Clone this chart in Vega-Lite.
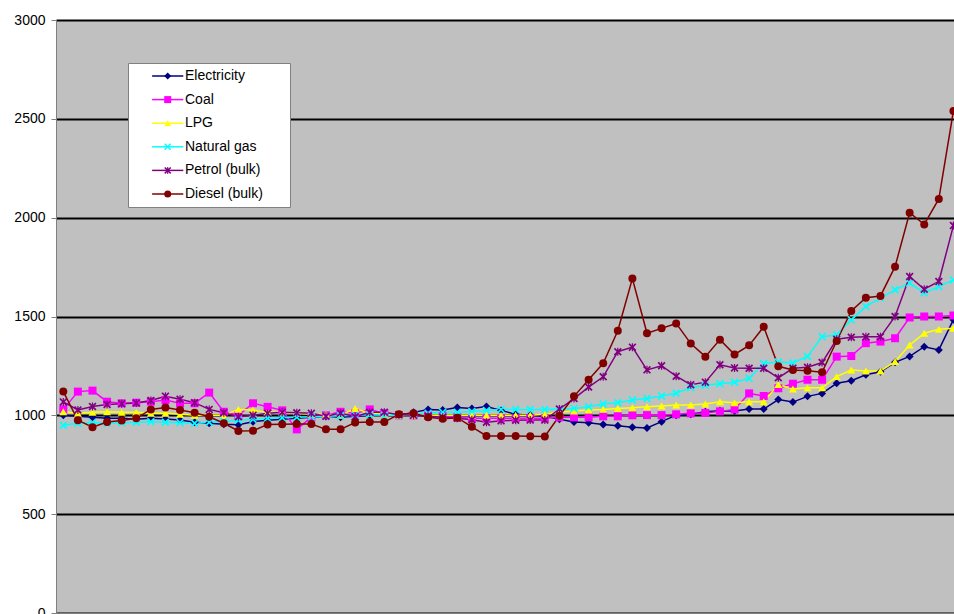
{
  "$schema": "https://vega.github.io/schema/vega-lite/v6.json",
  "width": 898,
  "height": 593,
  "autosize": {"type": "none"},
  "padding": {"left": 56, "top": 20, "right": 0, "bottom": 1},
  "background": "white",
  "config": {
    "view": {"fill": "#C0C0C0", "stroke": null},
    "font": "Liberation Sans"
  },
  "datasets": {
    "prices": [
      {"series":"Electricity","period":0,"value":1000},{"series":"Electricity","period":1,"value":995},{"series":"Electricity","period":2,"value":990},{"series":"Electricity","period":3,"value":985},{"series":"Electricity","period":4,"value":985},{"series":"Electricity","period":5,"value":980},{"series":"Electricity","period":6,"value":985},{"series":"Electricity","period":7,"value":982},{"series":"Electricity","period":8,"value":976},{"series":"Electricity","period":9,"value":965},
      {"series":"Electricity","period":10,"value":960},{"series":"Electricity","period":11,"value":955},{"series":"Electricity","period":12,"value":952},{"series":"Electricity","period":13,"value":968},{"series":"Electricity","period":14,"value":975},{"series":"Electricity","period":15,"value":980},{"series":"Electricity","period":16,"value":985},{"series":"Electricity","period":17,"value":990},{"series":"Electricity","period":18,"value":995},{"series":"Electricity","period":19,"value":990},
      {"series":"Electricity","period":20,"value":995},{"series":"Electricity","period":21,"value":1000},{"series":"Electricity","period":22,"value":1000},{"series":"Electricity","period":23,"value":1000},{"series":"Electricity","period":24,"value":1015},{"series":"Electricity","period":25,"value":1030},{"series":"Electricity","period":26,"value":1027},{"series":"Electricity","period":27,"value":1040},{"series":"Electricity","period":28,"value":1035},{"series":"Electricity","period":29,"value":1045},
      {"series":"Electricity","period":30,"value":1025},{"series":"Electricity","period":31,"value":1005},{"series":"Electricity","period":32,"value":1000},{"series":"Electricity","period":33,"value":995},{"series":"Electricity","period":34,"value":980},{"series":"Electricity","period":35,"value":966},{"series":"Electricity","period":36,"value":963},{"series":"Electricity","period":37,"value":954},{"series":"Electricity","period":38,"value":947},{"series":"Electricity","period":39,"value":940},
      {"series":"Electricity","period":40,"value":936},{"series":"Electricity","period":41,"value":968},{"series":"Electricity","period":42,"value":1001},{"series":"Electricity","period":43,"value":1006},{"series":"Electricity","period":44,"value":1018},{"series":"Electricity","period":45,"value":1023},{"series":"Electricity","period":46,"value":1022},{"series":"Electricity","period":47,"value":1032},{"series":"Electricity","period":48,"value":1032},{"series":"Electricity","period":49,"value":1080},
      {"series":"Electricity","period":50,"value":1067},{"series":"Electricity","period":51,"value":1096},{"series":"Electricity","period":52,"value":1111},{"series":"Electricity","period":53,"value":1162},{"series":"Electricity","period":54,"value":1175},{"series":"Electricity","period":55,"value":1205},{"series":"Electricity","period":56,"value":1220},{"series":"Electricity","period":57,"value":1268},{"series":"Electricity","period":58,"value":1298},{"series":"Electricity","period":59,"value":1347},
      {"series":"Electricity","period":60,"value":1331},{"series":"Electricity","period":61,"value":1484},

      {"series":"Coal","period":0,"value":1030},{"series":"Coal","period":1,"value":1120},{"series":"Coal","period":2,"value":1125},{"series":"Coal","period":3,"value":1069},{"series":"Coal","period":4,"value":1061},{"series":"Coal","period":5,"value":1064},{"series":"Coal","period":6,"value":1069},{"series":"Coal","period":7,"value":1077},{"series":"Coal","period":8,"value":1061},{"series":"Coal","period":9,"value":1061},
      {"series":"Coal","period":10,"value":1115},{"series":"Coal","period":11,"value":1018},{"series":"Coal","period":12,"value":1000},{"series":"Coal","period":13,"value":1061},{"series":"Coal","period":14,"value":1043},{"series":"Coal","period":15,"value":1025},{"series":"Coal","period":16,"value":929},{"series":"Coal","period":17,"value":990},{"series":"Coal","period":18,"value":1000},{"series":"Coal","period":19,"value":1018},
      {"series":"Coal","period":20,"value":1010},{"series":"Coal","period":21,"value":1030},{"series":"Coal","period":22,"value":1010},{"series":"Coal","period":23,"value":1000},{"series":"Coal","period":24,"value":1000},{"series":"Coal","period":25,"value":1000},{"series":"Coal","period":26,"value":995},{"series":"Coal","period":27,"value":990},{"series":"Coal","period":28,"value":985},{"series":"Coal","period":29,"value":985},
      {"series":"Coal","period":30,"value":985},{"series":"Coal","period":31,"value":985},{"series":"Coal","period":32,"value":985},{"series":"Coal","period":33,"value":985},{"series":"Coal","period":34,"value":990},{"series":"Coal","period":35,"value":990},{"series":"Coal","period":36,"value":990},{"series":"Coal","period":37,"value":995},{"series":"Coal","period":38,"value":995},{"series":"Coal","period":39,"value":1000},
      {"series":"Coal","period":40,"value":1001},{"series":"Coal","period":41,"value":1001},{"series":"Coal","period":42,"value":1005},{"series":"Coal","period":43,"value":1010},{"series":"Coal","period":44,"value":1012},{"series":"Coal","period":45,"value":1020},{"series":"Coal","period":46,"value":1030},{"series":"Coal","period":47,"value":1111},{"series":"Coal","period":48,"value":1098},{"series":"Coal","period":49,"value":1137},
      {"series":"Coal","period":50,"value":1160},{"series":"Coal","period":51,"value":1180},{"series":"Coal","period":52,"value":1180},{"series":"Coal","period":53,"value":1297},{"series":"Coal","period":54,"value":1300},{"series":"Coal","period":55,"value":1365},{"series":"Coal","period":56,"value":1373},{"series":"Coal","period":57,"value":1390},{"series":"Coal","period":58,"value":1495},{"series":"Coal","period":59,"value":1500},
      {"series":"Coal","period":60,"value":1500},{"series":"Coal","period":61,"value":1505},

      {"series":"LPG","period":0,"value":1018},{"series":"LPG","period":1,"value":1010},{"series":"LPG","period":2,"value":1015},{"series":"LPG","period":3,"value":1018},{"series":"LPG","period":4,"value":1015},{"series":"LPG","period":5,"value":1015},{"series":"LPG","period":6,"value":1010},{"series":"LPG","period":7,"value":1010},{"series":"LPG","period":8,"value":1005},{"series":"LPG","period":9,"value":1000},
      {"series":"LPG","period":10,"value":1000},{"series":"LPG","period":11,"value":1000},{"series":"LPG","period":12,"value":1030},{"series":"LPG","period":13,"value":1027},{"series":"LPG","period":14,"value":1015},{"series":"LPG","period":15,"value":1015},{"series":"LPG","period":16,"value":1010},{"series":"LPG","period":17,"value":1005},{"series":"LPG","period":18,"value":1005},{"series":"LPG","period":19,"value":1000},
      {"series":"LPG","period":20,"value":1035},{"series":"LPG","period":21,"value":1010},{"series":"LPG","period":22,"value":1005},{"series":"LPG","period":23,"value":1000},{"series":"LPG","period":24,"value":1000},{"series":"LPG","period":25,"value":1000},{"series":"LPG","period":26,"value":1000},{"series":"LPG","period":27,"value":1000},{"series":"LPG","period":28,"value":1000},{"series":"LPG","period":29,"value":1000},
      {"series":"LPG","period":30,"value":1000},{"series":"LPG","period":31,"value":1000},{"series":"LPG","period":32,"value":1001},{"series":"LPG","period":33,"value":1005},{"series":"LPG","period":34,"value":1015},{"series":"LPG","period":35,"value":1022},{"series":"LPG","period":36,"value":1027},{"series":"LPG","period":37,"value":1030},{"series":"LPG","period":38,"value":1035},{"series":"LPG","period":39,"value":1038},
      {"series":"LPG","period":40,"value":1043},{"series":"LPG","period":41,"value":1047},{"series":"LPG","period":42,"value":1052},{"series":"LPG","period":43,"value":1052},{"series":"LPG","period":44,"value":1057},{"series":"LPG","period":45,"value":1069},{"series":"LPG","period":46,"value":1064},{"series":"LPG","period":47,"value":1069},{"series":"LPG","period":48,"value":1069},{"series":"LPG","period":49,"value":1156},
      {"series":"LPG","period":50,"value":1133},{"series":"LPG","period":51,"value":1139},{"series":"LPG","period":52,"value":1139},{"series":"LPG","period":53,"value":1196},{"series":"LPG","period":54,"value":1229},{"series":"LPG","period":55,"value":1224},{"series":"LPG","period":56,"value":1224},{"series":"LPG","period":57,"value":1272},{"series":"LPG","period":58,"value":1356},{"series":"LPG","period":59,"value":1415},
      {"series":"LPG","period":60,"value":1435},{"series":"LPG","period":61,"value":1440},

      {"series":"Natural gas","period":0,"value":950},{"series":"Natural gas","period":1,"value":960},{"series":"Natural gas","period":2,"value":962},{"series":"Natural gas","period":3,"value":960},{"series":"Natural gas","period":4,"value":963},{"series":"Natural gas","period":5,"value":965},{"series":"Natural gas","period":6,"value":968},{"series":"Natural gas","period":7,"value":965},{"series":"Natural gas","period":8,"value":963},{"series":"Natural gas","period":9,"value":960},
      {"series":"Natural gas","period":10,"value":965},{"series":"Natural gas","period":11,"value":970},{"series":"Natural gas","period":12,"value":975},{"series":"Natural gas","period":13,"value":980},{"series":"Natural gas","period":14,"value":985},{"series":"Natural gas","period":15,"value":988},{"series":"Natural gas","period":16,"value":990},{"series":"Natural gas","period":17,"value":993},{"series":"Natural gas","period":18,"value":995},{"series":"Natural gas","period":19,"value":998},
      {"series":"Natural gas","period":20,"value":1000},{"series":"Natural gas","period":21,"value":1003},{"series":"Natural gas","period":22,"value":1000},{"series":"Natural gas","period":23,"value":1000},{"series":"Natural gas","period":24,"value":1005},{"series":"Natural gas","period":25,"value":1010},{"series":"Natural gas","period":26,"value":1015},{"series":"Natural gas","period":27,"value":1015},{"series":"Natural gas","period":28,"value":1020},{"series":"Natural gas","period":29,"value":1025},
      {"series":"Natural gas","period":30,"value":1030},{"series":"Natural gas","period":31,"value":1030},{"series":"Natural gas","period":32,"value":1030},{"series":"Natural gas","period":33,"value":1030},{"series":"Natural gas","period":34,"value":1032},{"series":"Natural gas","period":35,"value":1035},{"series":"Natural gas","period":36,"value":1043},{"series":"Natural gas","period":37,"value":1057},{"series":"Natural gas","period":38,"value":1064},{"series":"Natural gas","period":39,"value":1077},
      {"series":"Natural gas","period":40,"value":1085},{"series":"Natural gas","period":41,"value":1098},{"series":"Natural gas","period":42,"value":1112},{"series":"Natural gas","period":43,"value":1140},{"series":"Natural gas","period":44,"value":1152},{"series":"Natural gas","period":45,"value":1160},{"series":"Natural gas","period":46,"value":1167},{"series":"Natural gas","period":47,"value":1187},{"series":"Natural gas","period":48,"value":1262},{"series":"Natural gas","period":49,"value":1270},
      {"series":"Natural gas","period":50,"value":1265},{"series":"Natural gas","period":51,"value":1298},{"series":"Natural gas","period":52,"value":1398},{"series":"Natural gas","period":53,"value":1407},{"series":"Natural gas","period":54,"value":1483},{"series":"Natural gas","period":55,"value":1551},{"series":"Natural gas","period":56,"value":1593},{"series":"Natural gas","period":57,"value":1635},{"series":"Natural gas","period":58,"value":1669},{"series":"Natural gas","period":59,"value":1620},
      {"series":"Natural gas","period":60,"value":1651},{"series":"Natural gas","period":61,"value":1685},

      {"series":"Petrol (bulk)","period":0,"value":1068},{"series":"Petrol (bulk)","period":1,"value":1027},{"series":"Petrol (bulk)","period":2,"value":1045},{"series":"Petrol (bulk)","period":3,"value":1055},{"series":"Petrol (bulk)","period":4,"value":1058},{"series":"Petrol (bulk)","period":5,"value":1062},{"series":"Petrol (bulk)","period":6,"value":1075},{"series":"Petrol (bulk)","period":7,"value":1097},{"series":"Petrol (bulk)","period":8,"value":1081},{"series":"Petrol (bulk)","period":9,"value":1064},
      {"series":"Petrol (bulk)","period":10,"value":1030},{"series":"Petrol (bulk)","period":11,"value":1013},{"series":"Petrol (bulk)","period":12,"value":993},{"series":"Petrol (bulk)","period":13,"value":1000},{"series":"Petrol (bulk)","period":14,"value":1010},{"series":"Petrol (bulk)","period":15,"value":1015},{"series":"Petrol (bulk)","period":16,"value":1013},{"series":"Petrol (bulk)","period":17,"value":1010},{"series":"Petrol (bulk)","period":18,"value":995},{"series":"Petrol (bulk)","period":19,"value":1012},
      {"series":"Petrol (bulk)","period":20,"value":993},{"series":"Petrol (bulk)","period":21,"value":1016},{"series":"Petrol (bulk)","period":22,"value":1016},{"series":"Petrol (bulk)","period":23,"value":1003},{"series":"Petrol (bulk)","period":24,"value":1000},{"series":"Petrol (bulk)","period":25,"value":995},{"series":"Petrol (bulk)","period":26,"value":990},{"series":"Petrol (bulk)","period":27,"value":985},{"series":"Petrol (bulk)","period":28,"value":978},{"series":"Petrol (bulk)","period":29,"value":965},
      {"series":"Petrol (bulk)","period":30,"value":972},{"series":"Petrol (bulk)","period":31,"value":975},{"series":"Petrol (bulk)","period":32,"value":976},{"series":"Petrol (bulk)","period":33,"value":976},{"series":"Petrol (bulk)","period":34,"value":1032},{"series":"Petrol (bulk)","period":35,"value":1085},{"series":"Petrol (bulk)","period":36,"value":1143},{"series":"Petrol (bulk)","period":37,"value":1195},{"series":"Petrol (bulk)","period":38,"value":1322},{"series":"Petrol (bulk)","period":39,"value":1345},
      {"series":"Petrol (bulk)","period":40,"value":1230},{"series":"Petrol (bulk)","period":41,"value":1251},{"series":"Petrol (bulk)","period":42,"value":1198},{"series":"Petrol (bulk)","period":43,"value":1155},{"series":"Petrol (bulk)","period":44,"value":1168},{"series":"Petrol (bulk)","period":45,"value":1256},{"series":"Petrol (bulk)","period":46,"value":1240},{"series":"Petrol (bulk)","period":47,"value":1238},{"series":"Petrol (bulk)","period":48,"value":1238},{"series":"Petrol (bulk)","period":49,"value":1190},
      {"series":"Petrol (bulk)","period":50,"value":1238},{"series":"Petrol (bulk)","period":51,"value":1243},{"series":"Petrol (bulk)","period":52,"value":1267},{"series":"Petrol (bulk)","period":53,"value":1385},{"series":"Petrol (bulk)","period":54,"value":1395},{"series":"Petrol (bulk)","period":55,"value":1397},{"series":"Petrol (bulk)","period":56,"value":1397},{"series":"Petrol (bulk)","period":57,"value":1500},{"series":"Petrol (bulk)","period":58,"value":1702},{"series":"Petrol (bulk)","period":59,"value":1638},
      {"series":"Petrol (bulk)","period":60,"value":1677},{"series":"Petrol (bulk)","period":61,"value":1960},

      {"series":"Diesel (bulk)","period":0,"value":1120},{"series":"Diesel (bulk)","period":1,"value":975},{"series":"Diesel (bulk)","period":2,"value":940},{"series":"Diesel (bulk)","period":3,"value":966},{"series":"Diesel (bulk)","period":4,"value":974},{"series":"Diesel (bulk)","period":5,"value":985},{"series":"Diesel (bulk)","period":6,"value":1030},{"series":"Diesel (bulk)","period":7,"value":1040},{"series":"Diesel (bulk)","period":8,"value":1027},{"series":"Diesel (bulk)","period":9,"value":1013},
      {"series":"Diesel (bulk)","period":10,"value":993},{"series":"Diesel (bulk)","period":11,"value":960},{"series":"Diesel (bulk)","period":12,"value":921},{"series":"Diesel (bulk)","period":13,"value":922},{"series":"Diesel (bulk)","period":14,"value":954},{"series":"Diesel (bulk)","period":15,"value":955},{"series":"Diesel (bulk)","period":16,"value":956},{"series":"Diesel (bulk)","period":17,"value":956},{"series":"Diesel (bulk)","period":18,"value":929},{"series":"Diesel (bulk)","period":19,"value":929},
      {"series":"Diesel (bulk)","period":20,"value":964},{"series":"Diesel (bulk)","period":21,"value":966},{"series":"Diesel (bulk)","period":22,"value":966},{"series":"Diesel (bulk)","period":23,"value":1005},{"series":"Diesel (bulk)","period":24,"value":1010},{"series":"Diesel (bulk)","period":25,"value":990},{"series":"Diesel (bulk)","period":26,"value":983},{"series":"Diesel (bulk)","period":27,"value":988},{"series":"Diesel (bulk)","period":28,"value":942},{"series":"Diesel (bulk)","period":29,"value":896},
      {"series":"Diesel (bulk)","period":30,"value":895},{"series":"Diesel (bulk)","period":31,"value":895},{"series":"Diesel (bulk)","period":32,"value":894},{"series":"Diesel (bulk)","period":33,"value":893},{"series":"Diesel (bulk)","period":34,"value":998},{"series":"Diesel (bulk)","period":35,"value":1096},{"series":"Diesel (bulk)","period":36,"value":1180},{"series":"Diesel (bulk)","period":37,"value":1263},{"series":"Diesel (bulk)","period":38,"value":1428},{"series":"Diesel (bulk)","period":39,"value":1692},
      {"series":"Diesel (bulk)","period":40,"value":1415},{"series":"Diesel (bulk)","period":41,"value":1440},{"series":"Diesel (bulk)","period":42,"value":1465},{"series":"Diesel (bulk)","period":43,"value":1363},{"series":"Diesel (bulk)","period":44,"value":1297},{"series":"Diesel (bulk)","period":45,"value":1383},{"series":"Diesel (bulk)","period":46,"value":1308},{"series":"Diesel (bulk)","period":47,"value":1354},{"series":"Diesel (bulk)","period":48,"value":1448},{"series":"Diesel (bulk)","period":49,"value":1248},
      {"series":"Diesel (bulk)","period":50,"value":1229},{"series":"Diesel (bulk)","period":51,"value":1226},{"series":"Diesel (bulk)","period":52,"value":1218},{"series":"Diesel (bulk)","period":53,"value":1376},{"series":"Diesel (bulk)","period":54,"value":1528},{"series":"Diesel (bulk)","period":55,"value":1595},{"series":"Diesel (bulk)","period":56,"value":1604},{"series":"Diesel (bulk)","period":57,"value":1752},{"series":"Diesel (bulk)","period":58,"value":2025},{"series":"Diesel (bulk)","period":59,"value":1966},
      {"series":"Diesel (bulk)","period":60,"value":2095},{"series":"Diesel (bulk)","period":61,"value":2540}
    ]
  },
  "data": {"name": "prices"},
  "encoding": {
    "x": {
      "field": "period", "type": "quantitative",
      "scale": {"domain": [-0.5, 61.04], "nice": false, "zero": false},
      "axis": {
        "title": null, "labels": false, "grid": false,
        "values": [-0.5,0.5,1.5,2.5,3.5,4.5,5.5,6.5,7.5,8.5,9.5,10.5,11.5,12.5,13.5,14.5,15.5,16.5,17.5,18.5,19.5,20.5,21.5,22.5,23.5,24.5,25.5,26.5,27.5,28.5,29.5,30.5,31.5,32.5,33.5,34.5,35.5,36.5,37.5,38.5,39.5,40.5,41.5,42.5,43.5,44.5,45.5,46.5,47.5,48.5,49.5,50.5,51.5,52.5,53.5,54.5,55.5,56.5,57.5,58.5,59.5,60.5],
        "domainColor": "#808080", "tickColor": "#808080", "tickSize": 5
      }
    },
    "y": {
      "field": "value", "type": "quantitative",
      "scale": {"domain": [0, 3000], "nice": false},
      "axis": {
        "title": null, "format": "d",
        "values": [0, 500, 1000, 1500, 2000, 2500, 3000],
        "grid": true, "gridColor": "#000000", "gridWidth": 2,
        "domainColor": "#808080", "tickColor": "#808080", "tickSize": 5,
        "labelPadding": 6, "labelFontSize": 14, "labelColor": "#000000", "labelFont": "Liberation Sans"
      }
    }
  },
  "layer": [
    {
      "mark": {"type": "line", "strokeWidth": 1.5, "clip": true},
      "encoding": {
        "stroke": {
          "field": "series", "type": "nominal",
          "sort": ["Electricity","Coal","LPG","Natural gas","Petrol (bulk)","Diesel (bulk)"],
          "scale": {"range": ["#000080","#FF00FF","#FFFF00","#00FFFF","#800080","#800000"]},
          "legend": {
            "orient": "none", "legendX": 72, "legendY": 43, "title": null,
            "fillColor": null, "strokeColor": null, "padding": 6,
            "symbolType": "M-6,0H6", "symbolSize": 27, "symbolStrokeWidth": 1.5, "symbolOffset": 26.7,
            "labelOffset": 10.3, "labelFontSize": 14, "labelFont": "Liberation Sans", "labelOpacity": 0,
            "rowPadding": 9.6, "zindex": 2
          }
        }
      }
    },
    {
      "mark": {"type": "point", "filled": true, "opacity": 1, "size": 64, "clip": true},
      "encoding": {
        "fill": {
          "field": "series", "type": "nominal",
          "scale": {"domain": ["Electricity","Coal","LPG","Natural gas","Petrol (bulk)","Diesel (bulk)"], "range": ["#000080","#FF00FF","#FFFF00","#00FFFF","#800080","#800000"]},
          "legend": {
            "orient": "none", "legendX": 72, "legendY": 43,
            "title": "\u2003", "titleOrient": "right", "titlePadding": 21, "titleFontSize": 14,
            "fillColor": "#FFFFFF", "strokeColor": "#808080", "padding": 6,
            "symbolSize": 49, "symbolOffset": 26.7, "symbolStrokeWidth": 0,
            "labelOffset": 10.3, "labelFontSize": 14, "labelFont": "Liberation Sans", "labelColor": "#000000",
            "rowPadding": 9.6, "zindex": 1
          }
        },
        "shape": {
          "field": "series", "type": "nominal",
          "scale": {"domain": ["Electricity","Coal","LPG","Natural gas","Petrol (bulk)","Diesel (bulk)"], "range": ["diamond","square","triangle-up","M-1,-0.7L-0.7,-1L0,-0.3L0.7,-1L1,-0.7L0.3,0L1,0.7L0.7,1L0,0.3L-0.7,1L-1,0.7L-0.3,0Z","M-1,-0.7L-0.7,-1L0,-0.3L0.7,-1L1,-0.7L0.3,0L1,0.7L0.7,1L0,0.3L-0.7,1L-1,0.7L-0.3,0ZM-0.15,-1L0.15,-1L0.15,1L-0.15,1Z","circle"]},
          "legend": {
            "orient": "none", "legendX": 72, "legendY": 43,
            "title": "\u2003", "titleOrient": "right", "titlePadding": 21, "titleFontSize": 14,
            "fillColor": "#FFFFFF", "strokeColor": "#808080", "padding": 6,
            "symbolSize": 49, "symbolOffset": 26.7, "symbolStrokeWidth": 0,
            "labelOffset": 10.3, "labelFontSize": 14, "labelFont": "Liberation Sans", "labelColor": "#000000",
            "rowPadding": 9.6, "zindex": 1
          }
        }
      }
    }
  ]
}
